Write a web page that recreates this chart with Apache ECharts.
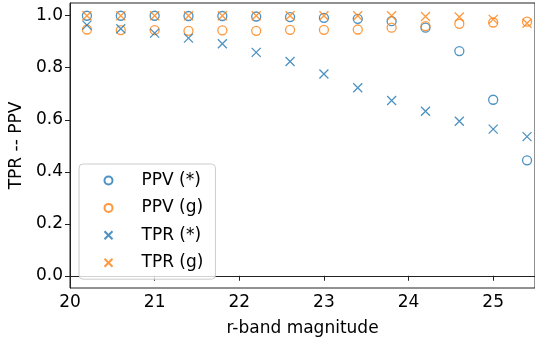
<!DOCTYPE html>
<html><head><meta charset="utf-8">
<script src="https://cdn.jsdelivr.net/npm/echarts@6/dist/echarts.min.js"></script>
<style>html,body{margin:0;padding:0;background:#fff}#c{width:535px;height:347px}</style>
</head><body><div id="c"></div>
<script>
const mags = [20.2,20.6,21.0,21.4,21.8,22.2,22.6,23.0,23.4,23.8,24.2,24.6,25.0,25.4];
const ppvStar = [1.0,1.0,1.0,0.999,0.999,0.997,0.995,0.992,0.988,0.979,0.954,0.864,0.677,0.444];
const ppvGal  = [0.947,0.945,0.945,0.942,0.944,0.942,0.946,0.946,0.947,0.954,0.960,0.969,0.974,0.977];
const tprStar = [0.964,0.950,0.933,0.914,0.892,0.859,0.824,0.776,0.723,0.674,0.633,0.594,0.564,0.535];
const tprGal  = [1.0,1.0,1.0,1.0,1.0,1.0,1.0,1.0,1.0,1.0,0.997,0.995,0.986,0.971];
const xTicks = [20,21,22,23,24,25];
const yTicks = [0,0.2,0.4,0.6,0.8,1.0];
const names = ['PPV (*)','PPV (g)','TPR (*)','TPR (g)'];

const BLUE='#1f77b4', ORANGE='#ff7f0e';
const FONT='DejaVu Sans';
const X='path://M0,0L10,10M10,0L0,10';
function pairs(ys){return mags.map((m,i)=>[m,ys[i]]);}
function ser(name, ys, sym, col){
  return {name, type:'scatter', data:pairs(ys), symbol:sym, symbolSize:9,
    itemStyle:{color:'none', borderColor:col, borderWidth:1.3}, emphasis:{disabled:true}};
}
const chart = echarts.init(document.getElementById('c'));
chart.setOption({
  animation:false,
  textStyle:{fontFamily:FONT},
  grid:{left:70, right:-2, top:3, bottom:59, show:true, borderColor:'#222', borderWidth:1},
  legend:{orient:'vertical', left:79, top:164, data:names,
    backgroundColor:'rgba(255,255,255,0.8)', borderColor:'#ccc', borderWidth:1, borderRadius:4,
    padding:[8,12,8,23], itemGap:10.4, itemWidth:8, itemHeight:8,
    textStyle:{fontFamily:FONT, fontSize:17, color:'#000', padding:[0,0,0,24]}},
  xAxis:{type:'value', min:20, max:25.494, interval:1,
    name:'r-band magnitude', nameLocation:'middle', nameGap:32,
    nameTextStyle:{fontFamily:FONT, fontSize:17, color:'#000'},
    axisLine:{show:true, lineStyle:{color:'#222', width:1}},
    axisTick:{show:true, length:5, lineStyle:{color:'#222'}},
    axisLabel:{fontFamily:FONT, fontSize:17, color:'#000', margin:6, showMaxLabel:false,
      formatter:v=>xTicks.includes(Math.round(v*1000)/1000)?String(v):''},
    splitLine:{show:false}},
  yAxis:{type:'value', min:-0.047, max:1.049,
    name:'TPR -- PPV', nameLocation:'middle', nameGap:43, nameRotate:90,
    nameTextStyle:{fontFamily:FONT, fontSize:17, color:'#000'},
    axisLine:{show:true, lineStyle:{color:'#222', width:1}},
    axisTick:{show:true, length:5, lineStyle:{color:'#222'}, customValues:yTicks},
    axisLabel:{fontFamily:FONT, fontSize:17, color:'#000', margin:7, customValues:yTicks,
      formatter:v=>v.toFixed(1)},
    splitLine:{show:false}},
  series:[
    ser(names[0], ppvStar, 'circle', BLUE),
    ser(names[1], ppvGal, 'circle', ORANGE),
    ser(names[2], tprStar, X, BLUE),
    ser(names[3], tprGal, X, ORANGE)
  ]
});
</script></body></html>
